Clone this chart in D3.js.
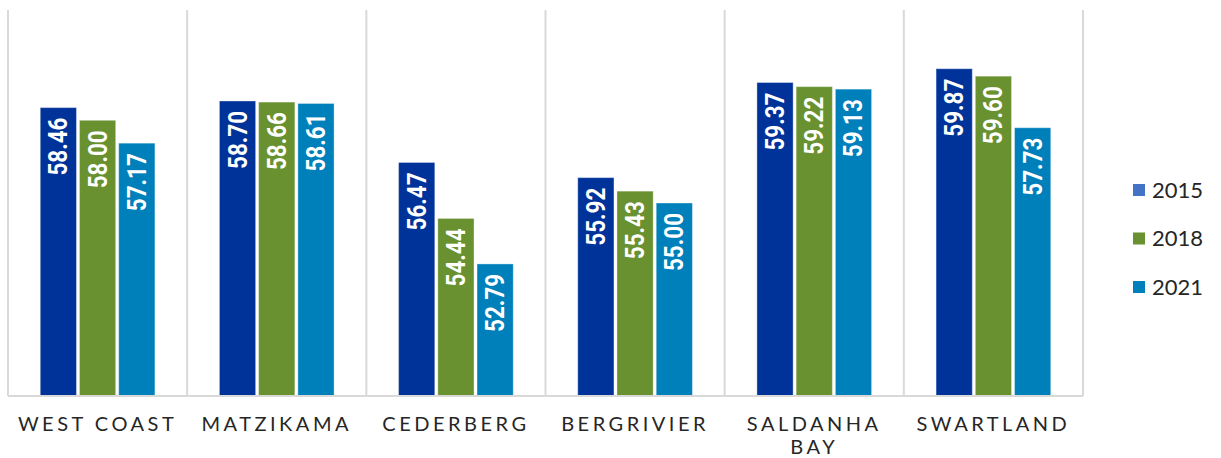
<!DOCTYPE html>
<html lang="en">
<head>
    <title>West Coast chart</title>
    <script src="https://d3js.org/d3.v7.min.js"></script>
    <style>
        body { margin: 0; background: #fff; }
        svg text { font-family: "Lato", "Open Sans", sans-serif; }
    </style>
</head>
<body>
    <svg id="chart"></svg>

    <script>
        var categories = ["WEST COAST", "MATZIKAMA", "CEDERBERG", "BERGRIVIER", "SALDANHA BAY", "SWARTLAND"];
        var years = ["2015", "2018", "2021"];
        var values2015 = [58.46, 58.70, 56.47, 55.92, 59.37, 59.87];
        var values2018 = [58.00, 58.66, 54.44, 55.43, 59.22, 59.60];
        var values2021 = [57.17, 58.61, 52.79, 55.00, 59.13, 57.73];
        var barColors = ["#003399", "#699130", "#0080bb"];
        var legendColors = ["#4472c4", "#699130", "#0080bb"];

        var W = 1221, H = 458;
        var margin = { top: 10, right: 138, bottom: 62, left: 8 };
        var width = W - margin.left - margin.right;
        var height = H - margin.top - margin.bottom;

        var series = [values2015, values2018, values2021];
        var data = categories.map(function (c, i) {
            return { name: c, vals: series.map(function (s, j) { return { year: years[j], v: s[i], k: j }; }) };
        });

        var svg = d3.select("#chart").attr("width", W).attr("height", H);
        var g = svg.append("g").attr("transform", "translate(" + margin.left + "," + margin.top + ")");

        var x0 = d3.scaleBand().domain(categories).range([0, width]).padding(0);
        var gw = x0.bandwidth();
        var x1 = d3.scaleBand().domain(years).range([gw * 0.18, gw * 0.82]).paddingInner(0.077);
        var y = d3.scaleLinear().domain([48, 62]).range([height, 0]);

        // vertical separators
        g.selectAll(".sep")
            .data(d3.range(categories.length + 1))
            .enter().append("line")
            .attr("x1", function (d) { return d * gw; })
            .attr("x2", function (d) { return d * gw; })
            .attr("y1", 0)
            .attr("y2", height)
            .attr("stroke", "#d9d9d9")
            .attr("stroke-width", 2);

        var groups = g.selectAll(".grp")
            .data(data)
            .enter().append("g")
            .attr("transform", function (d) { return "translate(" + x0(d.name) + ",0)"; });

        groups.selectAll("rect")
            .data(function (d) { return d.vals; })
            .enter().append("rect")
            .attr("x", function (d) { return x1(d.year); })
            .attr("y", function (d) { return y(d.v); })
            .attr("width", x1.bandwidth())
            .attr("height", function (d) { return height - y(d.v); })
            .attr("fill", function (d) { return barColors[d.k]; })
            .attr("stroke", "#ffffff")
            .attr("stroke-opacity", 0.35)
            .attr("stroke-width", 1);

        // value labels, rotated inside the bars
        groups.selectAll(".lbl")
            .data(function (d) { return d.vals; })
            .enter().append("text")
            .attr("transform", function (d) {
                return "translate(" + (x1(d.year) + x1.bandwidth() / 2) + "," + (y(d.v) + 10) + ") rotate(-90)";
            })
            .attr("dy", "0.36em")
            .attr("text-anchor", "end")
            .attr("textLength", 58)
            .attr("lengthAdjust", "spacingAndGlyphs")
            .attr("fill", "#fff")
            .style("font-family", "Roboto, sans-serif")
            .style("font-size", "25px")
            .style("font-weight", "bold")
            .text(function (d) { return d.v.toFixed(2); });

        // baseline
        g.append("line")
            .attr("x1", 0).attr("x2", width)
            .attr("y1", height).attr("y2", height)
            .attr("stroke", "#d9d9d9")
            .attr("stroke-width", 2);

        // category labels (wrapped)
        groups.each(function (d) {
            var words = d.name === "SALDANHA BAY" ? ["SALDANHA", "BAY"] : [d.name];
            var t = d3.select(this).append("text")
                .attr("x", gw / 2)
                .attr("y", height + 35)
                .attr("text-anchor", "middle")
                .attr("fill", "#262626")
                .style("font-size", "20px")
                .style("letter-spacing", "3.5px");
            words.forEach(function (w, i) {
                t.append("tspan").attr("x", gw / 2).attr("dy", i === 0 ? 0 : 23).text(w);
            });
        });

        // legend
        var legend = svg.append("g").attr("transform", "translate(1133,0)");
        var ly = d3.scalePoint().domain(years).range([190, 287]);
        legend.selectAll("rect")
            .data(years)
            .enter().append("rect")
            .attr("x", 0)
            .attr("y", function (d) { return ly(d) - 6; })
            .attr("width", 12)
            .attr("height", 12)
            .attr("fill", function (d, i) { return legendColors[i]; });
        legend.selectAll("text")
            .data(years)
            .enter().append("text")
            .attr("x", 19)
            .attr("y", function (d) { return ly(d); })
            .attr("dy", "0.36em")
            .attr("fill", "#262626")
            .style("font-size", "22px")
            .text(function (d) { return d; });
    </script>
</body>
</html>
